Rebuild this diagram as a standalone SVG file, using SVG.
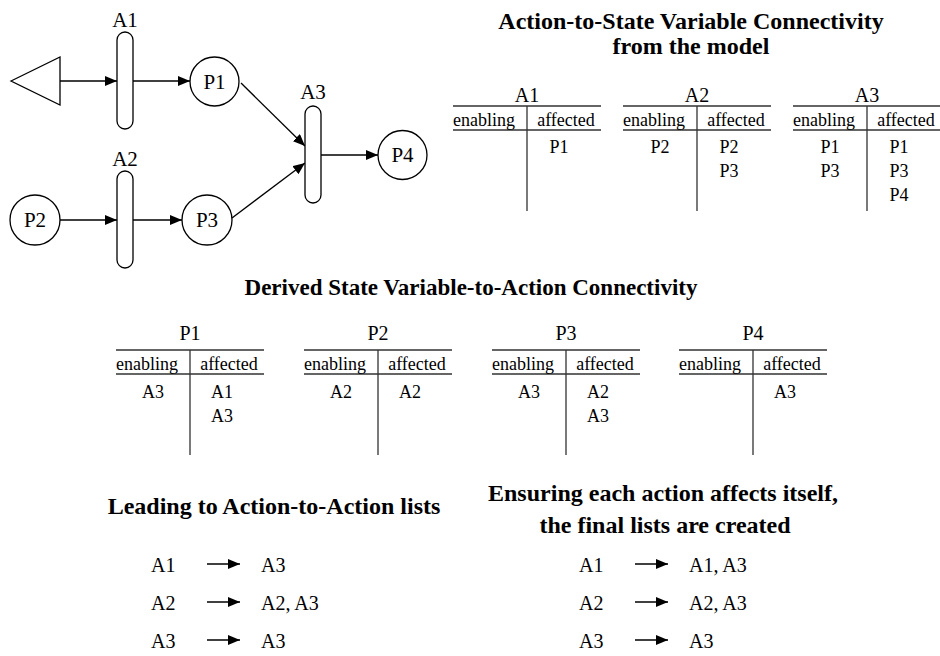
<svg xmlns="http://www.w3.org/2000/svg" width="940" height="656" viewBox="0 0 940 656" font-family="'Liberation Serif', 'Times New Roman', 'DejaVu Serif', serif">
  <defs>
    <marker id="ah" viewBox="0 0 12 10" refX="12" refY="5" markerWidth="12" markerHeight="10" markerUnits="userSpaceOnUse" orient="auto">
      <path d="M0,0 L12,5 L0,10 Z" fill="#000"/>
    </marker>
    <style>
      .lbl { font-size: 21px; text-anchor: middle; }
      .title { font-size: 24px; font-weight: bold; text-anchor: middle; }
      .hd { font-size: 20px; text-anchor: middle; }
      .col { font-size: 18px; text-anchor: middle; }
      .cell { font-size: 18px; text-anchor: middle; }
      .node { fill: #fff; stroke: #000; stroke-width: 1.3; }
      .edge { fill: none; stroke: #000; stroke-width: 1.3; marker-end: url(#ah); }
      .rule { stroke: #333; stroke-width: 1.3; fill: none; }
      .lst { font-size: 20px; }
    </style>
  </defs>

  <rect width="940" height="656" fill="#fff"/>

  <!-- model graph: connectors -->
  <g id="connectors">
    <line class="edge" x1="60" y1="81" x2="117" y2="81"/>
    <line class="edge" x1="133" y1="81" x2="190" y2="81"/>
    <line class="edge" x1="241" y1="83" x2="305" y2="146"/>
    <line class="edge" x1="60" y1="220" x2="117" y2="220"/>
    <line class="edge" x1="133" y1="220" x2="182" y2="220"/>
    <line class="edge" x1="232" y1="218" x2="305" y2="163"/>
    <line class="edge" x1="321" y1="155" x2="378" y2="155"/>
  </g>

  <!-- model graph: nodes -->
  <g id="source">
    <polygon class="node" points="11,81 60,57 60,105"/>
  </g>
  <g id="A1">
    <rect class="node" x="117" y="32" width="16" height="97" rx="8"/>
    <text class="lbl" x="125" y="27">A1</text>
  </g>
  <g id="A2">
    <rect class="node" x="117" y="171" width="16" height="97" rx="8"/>
    <text class="lbl" x="125" y="166">A2</text>
  </g>
  <g id="A3">
    <rect class="node" x="305" y="106" width="16" height="97" rx="8"/>
    <text class="lbl" x="313" y="99">A3</text>
  </g>
  <g id="P1">
    <circle class="node" cx="214.5" cy="81.5" r="24.5"/>
    <text class="lbl" x="214.5" y="88.5">P1</text>
  </g>
  <g id="P2">
    <circle class="node" cx="35" cy="220" r="25"/>
    <text class="lbl" x="35" y="227">P2</text>
  </g>
  <g id="P3">
    <circle class="node" cx="207" cy="220" r="25"/>
    <text class="lbl" x="207" y="227">P3</text>
  </g>
  <g id="P4">
    <circle class="node" cx="402.5" cy="155" r="24.5"/>
    <text class="lbl" x="402.5" y="162">P4</text>
  </g>

  <!-- action-to-state tables -->
  <g id="title-action-state">
    <text class="title" x="691" y="29">Action-to-State Variable Connectivity</text>
    <text class="title" x="691" y="54">from the model</text>
  </g>

  <g id="table-A1" transform="translate(453,0)">
    <text class="hd" x="74" y="102">A1</text>
    <path class="rule" d="M0,106 H148 M0,130 H148 M74,106 V211"/>
    <text class="col" x="31" y="126">enabling</text>
    <text class="col" x="113" y="126">affected</text>
    <text class="cell" x="106" y="153">P1</text>
  </g>
  <g id="table-A2" transform="translate(623,0)">
    <text class="hd" x="74" y="102">A2</text>
    <path class="rule" d="M0,106 H148 M0,130 H148 M74,106 V211"/>
    <text class="col" x="31" y="126">enabling</text>
    <text class="col" x="113" y="126">affected</text>
    <text class="cell" x="37" y="153">P2</text>
    <text class="cell" x="106" y="153">P2</text>
    <text class="cell" x="106" y="177">P3</text>
  </g>
  <g id="table-A3" transform="translate(793,0)">
    <text class="hd" x="74" y="102">A3</text>
    <path class="rule" d="M0,106 H148 M0,130 H148 M74,106 V211"/>
    <text class="col" x="31" y="126">enabling</text>
    <text class="col" x="113" y="126">affected</text>
    <text class="cell" x="37" y="153">P1</text>
    <text class="cell" x="37" y="177">P3</text>
    <text class="cell" x="106" y="153">P1</text>
    <text class="cell" x="106" y="177">P3</text>
    <text class="cell" x="106" y="201">P4</text>
  </g>

  <!-- derived state-to-action tables -->
  <g id="title-derived">
    <text class="title" style="font-size:23px" x="471" y="295">Derived State Variable-to-Action Connectivity</text>
  </g>

  <g id="table-P1" transform="translate(116,244)">
    <text class="hd" x="74" y="96">P1</text>
    <path class="rule" d="M0,106 H148 M0,130 H148 M74,106 V211"/>
    <text class="col" x="31" y="126">enabling</text>
    <text class="col" x="113" y="126">affected</text>
    <text class="cell" x="37" y="154">A3</text>
    <text class="cell" x="106" y="154">A1</text>
    <text class="cell" x="106" y="178">A3</text>
  </g>
  <g id="table-P2" transform="translate(304,244)">
    <text class="hd" x="74" y="96">P2</text>
    <path class="rule" d="M0,106 H148 M0,130 H148 M74,106 V211"/>
    <text class="col" x="31" y="126">enabling</text>
    <text class="col" x="113" y="126">affected</text>
    <text class="cell" x="37" y="154">A2</text>
    <text class="cell" x="106" y="154">A2</text>
  </g>
  <g id="table-P3" transform="translate(492,244)">
    <text class="hd" x="74" y="96">P3</text>
    <path class="rule" d="M0,106 H148 M0,130 H148 M74,106 V211"/>
    <text class="col" x="31" y="126">enabling</text>
    <text class="col" x="113" y="126">affected</text>
    <text class="cell" x="37" y="154">A3</text>
    <text class="cell" x="106" y="154">A2</text>
    <text class="cell" x="106" y="178">A3</text>
  </g>
  <g id="table-P4" transform="translate(679,244)">
    <text class="hd" x="74" y="96">P4</text>
    <path class="rule" d="M0,106 H148 M0,130 H148 M74,106 V211"/>
    <text class="col" x="31" y="126">enabling</text>
    <text class="col" x="113" y="126">affected</text>
    <text class="cell" x="106" y="154">A3</text>
  </g>

  <!-- action-to-action lists -->
  <g id="list-leading">
    <text class="title" x="274" y="514">Leading to Action-to-Action lists</text>
    <text class="lst" x="151" y="572">A1</text>
    <line class="edge" x1="207" y1="564" x2="240" y2="564"/>
    <text class="lst" x="261" y="572">A3</text>
    <text class="lst" x="151" y="610">A2</text>
    <line class="edge" x1="207" y1="602" x2="240" y2="602"/>
    <text class="lst" x="261" y="610">A2, A3</text>
    <text class="lst" x="151" y="648">A3</text>
    <line class="edge" x1="207" y1="640" x2="240" y2="640"/>
    <text class="lst" x="261" y="648">A3</text>
  </g>

  <g id="list-final">
    <text class="title" x="663" y="501">Ensuring each action affects itself,</text>
    <text class="title" x="665" y="533">the final lists are created</text>
    <text class="lst" x="579" y="572">A1</text>
    <line class="edge" x1="635" y1="564" x2="668" y2="564"/>
    <text class="lst" x="689" y="572">A1, A3</text>
    <text class="lst" x="579" y="610">A2</text>
    <line class="edge" x1="635" y1="602" x2="668" y2="602"/>
    <text class="lst" x="689" y="610">A2, A3</text>
    <text class="lst" x="579" y="648">A3</text>
    <line class="edge" x1="635" y1="640" x2="668" y2="640"/>
    <text class="lst" x="689" y="648">A3</text>
  </g>
</svg>
